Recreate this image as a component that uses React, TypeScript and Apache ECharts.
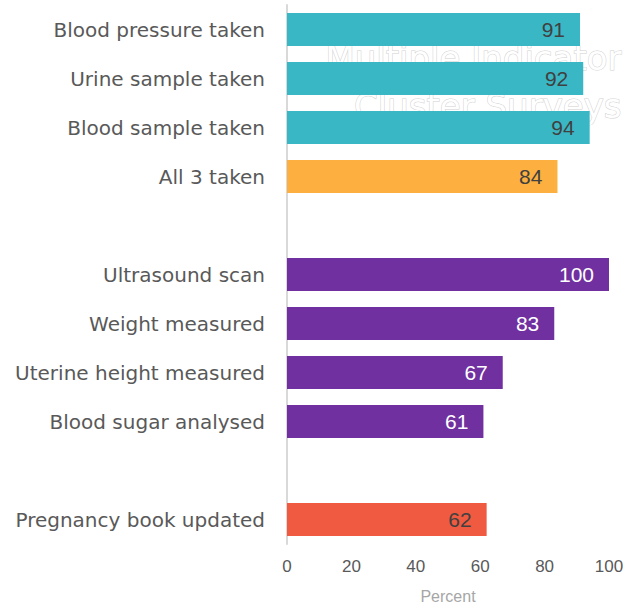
import React, { useEffect, useRef } from "react";
import * as echarts from "echarts";

const categories = [
  "Blood pressure taken",
  "Urine sample taken",
  "Blood sample taken",
  "All 3 taken",
  "",
  "Ultrasound scan",
  "Weight measured",
  "Uterine height measured",
  "Blood sugar analysed",
  " ",
  "Pregnancy book updated",
];
const values: (number | null)[] = [91, 92, 94, 84, null, 100, 83, 67, 61, null, 62];
const barColors = ["#3AB7C5", "#3AB7C5", "#3AB7C5", "#FDB040", "", "#7030A0", "#7030A0", "#7030A0", "#7030A0", "", "#F05A40"];
const labelColors = ["#404040", "#404040", "#404040", "#404040", "", "#FFFFFF", "#FFFFFF", "#FFFFFF", "#FFFFFF", "", "#404040"];
const xTicks = [0, 20, 40, 60, 80, 100];
const watermarkLines = ["Multiple Indicator", "Cluster Surveys"];

export default function App() {
  const ref = useRef<HTMLDivElement>(null);
  useEffect(() => {
    if (!ref.current) return;
    const chart = echarts.init(ref.current, undefined, { renderer: "svg" });
    const font = "'Liberation Sans', Arial, sans-serif";
    const wide = "'DejaVu Sans', sans-serif";
    chart.setOption({
      animation: false,
      backgroundColor: "#FFFFFF",
      textStyle: { fontFamily: font },
      grid: { left: 287, right: 30, top: 5, height: 539, outerBoundsMode: "none", containLabel: false },
      graphic: watermarkLines.map((t, i) => ({
        type: "text",
        right: 17,
        top: 40 + i * 48,
        z: -10,
        style: {
          text: t,
          fontSize: 34,
          fontFamily: wide,
          fill: "#FFFFFF",
          stroke: "#D0D0D0",
          lineWidth: 1,
        },
      })),
      xAxis: {
        type: "value",
        min: 0,
        max: 100,
        interval: 20,
        splitLine: { show: false },
        axisLine: { show: false },
        axisTick: { show: false },
        axisLabel: {
          color: "#595959",
          fontSize: 17,
          margin: 14,
          formatter: (v: number) => (xTicks.includes(v) ? String(v) : ""),
        },
        name: "Percent",
        nameLocation: "middle",
        nameGap: 44,
        nameTextStyle: { color: "#A6A6A6", fontSize: 16, fontFamily: font },
      },
      yAxis: {
        type: "category",
        inverse: true,
        data: categories,
        axisLine: { show: true, lineStyle: { color: "#D9D9D9", width: 2 } },
        axisTick: { show: false },
        axisLabel: { color: "#595959", fontSize: 20, margin: 22, fontFamily: wide },
      },
      series: [
        {
          type: "bar",
          barWidth: 33,
          data: values.map((v, i) => ({
            value: v,
            itemStyle: { color: barColors[i] || "#000" },
            label: { color: labelColors[i] || "#000" },
          })),
          label: {
            show: true,
            position: "insideRight",
            distance: 15,
            fontSize: 21,
            fontFamily: font,
          },
        },
      ],
    });
    return () => chart.dispose();
  }, []);
  return <div ref={ref} style={{ width: 639, height: 605, position: "absolute", left: 0, top: 0 }} />;
}
